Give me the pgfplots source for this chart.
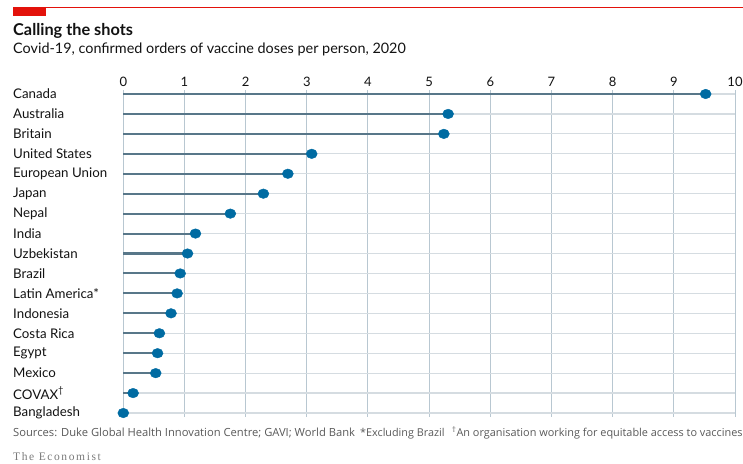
\documentclass[border=0pt]{standalone}
\usepackage{fontspec}
\setmainfont{Lato}
\newfontfamily\econserif[LetterSpace=14]{Liberation Serif}
\newfontfamily\srcfont{Open Sans}
\usepackage{pgfplots}
\usepackage{pgfplotstable}
\pgfplotsset{compat=1.18}
\definecolor{dotblue}{HTML}{006BA2}
\definecolor{stemc}{HTML}{587789}
\definecolor{hgrid}{HTML}{D5DCE1}
\definecolor{vgrid}{HTML}{B8C7D1}
\definecolor{econred}{HTML}{E3120B}
\definecolor{txt}{HTML}{121212}
\definecolor{srcc}{HTML}{595959}
\definecolor{logoc}{HTML}{7A7A7A}

\pgfplotstableread{
idx val
0 9.52
1 5.31
2 5.24
3 3.08
4 2.69
5 2.29
6 1.75
7 1.18
8 1.05
9 0.93
10 0.88
11 0.78
12 0.59
13 0.56
14 0.53
15 0.16
16 0
}\doses

\begin{document}
\begin{tikzpicture}[x=1pt,y=1pt]
\path[use as bounding box] (0,0) rectangle (743,-463);
\fill[econred] (13,-7) rectangle (46,-15.5);
\draw[econred, line width=0.8pt] (13,-7) -- (743,-7);
\node[anchor=base west, inner sep=0, text=txt, font=\bfseries\fontsize{16.3}{18}\selectfont] at (13,-35) {Calling the shots};
\node[anchor=base west, inner sep=0, text=txt, font=\fontsize{14.4}{16}\selectfont] at (13,-53) {Covid-19, confirmed orders of vaccine doses per person, 2020};

\begin{axis}[
  scale only axis, width=611.7pt, height=327pt,
  anchor=north west, at={(123.3pt,-90pt)},
  xmin=0, xmax=10, ymin=-0.2, ymax=16.2, y dir=reverse,
  clip=false,
  axis line style={draw=none}, major tick length=0pt,
  xtick={0,...,10}, xticklabel pos=upper,
  /pgf/number format/assume math mode=true,
  xticklabel style={font=\fontsize{13}{14}\selectfont, text=txt},
  ytick={0,...,16},
  yticklabels={Canada, Australia, Britain, United States, European Union, Japan, Nepal, India, Uzbekistan, Brazil, Latin America*, Indonesia, Costa Rica, Egypt, Mexico, COVAX\textsuperscript{\textdagger}, Bangladesh},
  yticklabel style={anchor=west, inner sep=0pt, xshift=-110.3pt, font=\fontsize{13.3}{14}\selectfont, text=txt},
  xmajorgrids, ymajorgrids,
  x grid style={vgrid, line width=1pt},
  y grid style={hgrid, line width=1.2pt},
  extra x ticks={0}, extra x tick labels={},
  extra x tick style={grid=major, grid style={black, line width=1.3pt}},
]
\addplot[xcomb, stemc, line width=2.1pt, no marks] table[x=val, y=idx] {\doses};
\addplot[only marks, mark=*, mark size=4.8pt, color=dotblue, mark options={xscale=1.15, draw=dotblue, fill=dotblue}] table[x=val, y=idx] {\doses};
\end{axis}

\node[anchor=base west, inner sep=0, text=srcc, font=\srcfont\fontsize{11.2}{12}\selectfont] at (13,-436) {Sources: Duke Global Health Innovation Centre; GAVI; World Bank};
\node[anchor=base west, inner sep=0, text=srcc, font=\srcfont\fontsize{10.8}{12}\selectfont] at (360,-436) {*Excluding Brazil};
\node[anchor=base west, inner sep=0, text=srcc, font=\srcfont\fontsize{10.9}{12}\selectfont] at (452,-436) {\textsuperscript{\textdagger}An organisation working for equitable access to vaccines};
\node[anchor=base west, inner sep=0, text=logoc, font=\econserif\fontsize{11.5}{14}\selectfont] at (13,-460) {The Economist};
\end{tikzpicture}
\end{document}
